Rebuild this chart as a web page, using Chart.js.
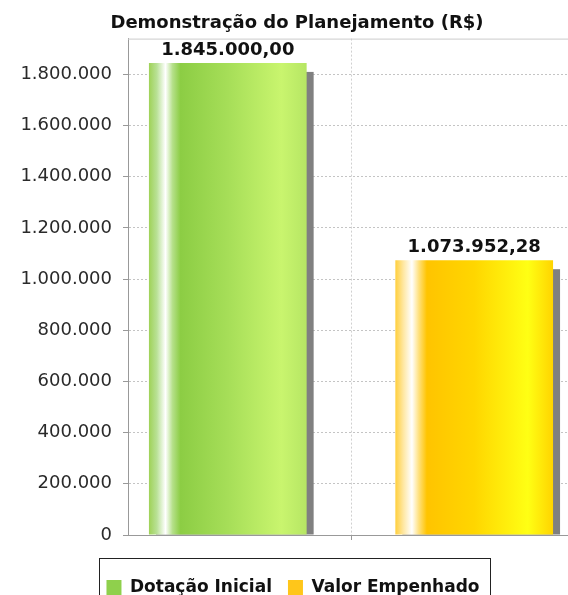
<!DOCTYPE html>
<html>
<head>
<meta charset="utf-8">
<script src="https://cdn.jsdelivr.net/npm/chart.js@4"></script>
<style>
html,body{margin:0;padding:0;background:#fff;overflow:hidden;}
#wrap{width:594px;height:595px;position:relative;}
</style>
</head>
<body>
<div id="wrap"><canvas id="chart"></canvas></div>
<script>
// ---- data ----
const chartTitle = 'Demonstração do Planejamento (R$)';
const categories = [''];
const seriesNames = ['Dotação Inicial', 'Valor Empenhado'];
const dotacaoInicial = [1845000.00];
const valorEmpenhado = [1073952.28];
const yTicks = [0, 200000, 400000, 600000, 800000, 1000000, 1200000, 1400000, 1600000, 1800000];
const yMax = 1940000;

const FONT = 'DejaVu Sans';

// brazilian number format: 1.845.000,00
function fmtBR(v, dec) {
    let s = Math.abs(v).toFixed(dec);
    let parts = s.split('.');
    let i = parts[0].replace(/\B(?=(\d{3})+(?!\d))/g, '.');
    return (v < 0 ? '-' : '') + i + (parts[1] ? ',' + parts[1] : '');
}

// gradient stops across the bar width (left -> right)
const barStops = [
    [[0, '#9fd257'], [0.05, '#b9e196'], [0.105, '#ffffff'], [0.15, '#b5e08a'], [0.2, '#8ccd44'], [0.5, '#a6de58'], [0.84, '#c9f56e'], [1, '#b6e664']],
    [[0, '#ffcf3c'], [0.05, '#ffe7a0'], [0.105, '#ffffff'], [0.15, '#ffe07a'], [0.2, '#ffc400'], [0.5, '#ffd600'], [0.84, '#ffff14'], [1, '#ffd400']]
];

// shadows, gradients, plot outline
const barLook = {
    id: 'barLook',
    afterLayout(chart) {
        // title and legend sit a bit right of the plot centre
        if (chart.titleBlock) { chart.titleBlock.left += 10; chart.titleBlock.right += 10; }
        if (chart.legend) { chart.legend.left += 6; chart.legend.right += 6; }
    },
    beforeDatasetsDraw(chart) {
        const ctx = chart.ctx;
        const a = chart.chartArea;
        ctx.save();
        ctx.strokeStyle = '#cccccc';
        ctx.lineWidth = 1;
        ctx.beginPath();
        ctx.moveTo(a.left, a.top + 0.5);
        ctx.lineTo(a.right, a.top + 0.5);
        ctx.stroke();
        ctx.restore();

        chart.data.datasets.forEach((ds, di) => {
            const meta = chart.getDatasetMeta(di);
            meta.data.forEach(bar => {
                const left = bar.x - bar.width / 2;
                const right = bar.x + bar.width / 2;
                ctx.save();
                ctx.fillStyle = '#808080';
                ctx.fillRect(left + 7, bar.y + 9, bar.width, bar.base - bar.y - 9);
                ctx.restore();
                const g = ctx.createLinearGradient(left, 0, right, 0);
                barStops[di].forEach(s => g.addColorStop(s[0], s[1]));
                bar.options = Object.assign({}, bar.options, { backgroundColor: g });
            });
        });
    },
    afterDatasetsDraw(chart) {
        const ctx = chart.ctx;
        ctx.save();
        ctx.font = 'bold 18px ' + FONT;
        ctx.fillStyle = '#111';
        ctx.textAlign = 'center';
        ctx.textBaseline = 'bottom';
        chart.data.datasets.forEach((ds, di) => {
            const meta = chart.getDatasetMeta(di);
            meta.data.forEach((bar, i) => {
                ctx.fillText(fmtBR(ds.data[i], 2), bar.x, bar.y - 4);
            });
        });
        ctx.restore();
    },
    afterDraw(chart) {
        // box round the legend
        const hb = chart.legend && chart.legend.legendHitBoxes;
        if (!hb || !hb.length) return;
        const first = hb[0], last = hb[hb.length - 1];
        const ctx = chart.ctx;
        ctx.save();
        ctx.strokeStyle = '#222';
        ctx.lineWidth = 1;
        const x1 = Math.round(first.left - 7) + 0.5;
        const x2 = Math.round(last.left + last.width + 10) + 0.5;
        const y1 = Math.round(first.top - 21) + 0.5;
        ctx.strokeRect(x1, y1, x2 - x1, chart.height + 10 - y1);
        ctx.restore();
    }
};

new Chart(document.getElementById('chart'), {
    type: 'bar',
    data: {
        labels: categories,
        datasets: [
            { label: seriesNames[0], data: dotacaoInicial, backgroundColor: '#8fd04c', borderWidth: 0 },
            { label: seriesNames[1], data: valorEmpenhado, backgroundColor: '#ffc61a', borderWidth: 0 }
        ]
    },
    options: {
        responsive: true,
        maintainAspectRatio: false,
        animation: false,
        categoryPercentage: 1.105,
        barPercentage: 0.64,
        layout: { padding: { left: 0, right: 20, top: 0, bottom: -11 } },
        plugins: {
            title: {
                display: true,
                text: chartTitle,
                color: '#111',
                font: { family: FONT, size: 18, weight: 'bold' },
                padding: { top: 13, bottom: 4 }
            },
            legend: {
                position: 'bottom',
                labels: {
                    boxWidth: 15,
                    boxHeight: 15,
                    padding: 16,
                    color: '#111',
                    font: { family: FONT, size: 17, weight: 'bold' }
                }
            },
            tooltip: { enabled: false }
        },
        scales: {
            x: {
                grid: { offset: false, color: '#d0d0d0', tickColor: '#999', tickLength: 5 },
                border: { color: '#999', width: 1, dash: [2, 2] },
                ticks: { font: { family: FONT, size: 14 } },
                afterFit: s => { s.height = 28; }
            },
            y: {
                min: 0,
                max: yMax,
                afterBuildTicks: s => { s.ticks = yTicks.map(v => ({ value: v })); },
                afterFit: s => { s.width = 128; },
                grid: { color: '#c4c4c4', tickColor: '#999', tickLength: 5 },
                border: { color: '#999', width: 1, dash: [2, 2] },
                ticks: {
                    color: '#2a2a2a',
                    padding: 11,
                    font: { family: FONT, size: 18 },
                    callback: v => fmtBR(v, 0)
                }
            }
        }
    },
    plugins: [barLook]
});
</script>
</body>
</html>
